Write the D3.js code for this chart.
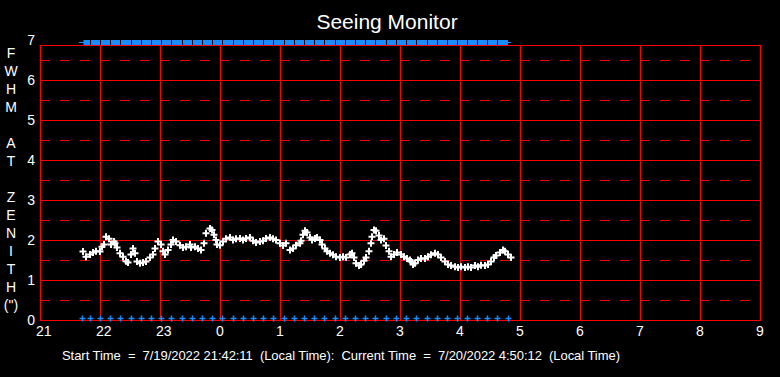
<!DOCTYPE html>
<html>
<head>
<meta charset="utf-8">
<script src="https://cdn.jsdelivr.net/npm/d3@7"></script>
<style>
  body { margin: 0; background: #000; }
  svg { display: block; font-family: "Liberation Sans", Arial, sans-serif; }
</style>
</head>
<body>
<div id="chart"></div>
<script>
// seeing samples: minutes after 21:00 and FWHM at zenith (arcsec)
const seeingMinutes = [43, 46, 50, 53, 56, 60, 62, 64, 66, 69, 71, 74, 75, 77, 80, 83, 86, 88, 91, 93,
  95, 97, 100, 103, 106, 110, 113, 115, 118, 121, 123, 125, 128, 131, 133, 136, 140, 143, 146, 150,
  151, 155, 158, 161, 164, 166, 170, 172, 174, 176, 177, 180, 183, 186, 190, 193, 196, 200, 203, 206,
  210, 213, 216, 220, 223, 226, 230, 233, 236, 240, 243, 246, 250, 253, 256, 260, 261, 263, 265, 267,
  270, 272, 275, 277, 280, 282, 285, 287, 290, 293, 296, 300, 303, 306, 310, 312, 314, 316, 319, 321,
  324, 326, 329, 331, 332, 334, 336, 339, 341, 344, 346, 349, 351, 354, 357, 361, 364, 367, 370, 371,
  373, 375, 378, 381, 385, 388, 391, 395, 398, 401, 405, 408, 411, 415, 418, 421, 425, 428, 431, 435,
  438, 441, 445, 448, 451, 454, 456, 460, 463, 465, 468, 471];
const seeingFwhm = [1.71, 1.58, 1.64, 1.69, 1.72, 1.71, 1.83, 1.89, 2.08, 2.03, 1.89, 1.96, 1.92, 1.81, 1.67, 1.58, 1.47, 1.44, 1.64, 1.79,
  1.67, 1.46, 1.42, 1.44, 1.46, 1.56, 1.64, 1.79, 1.96, 1.89, 1.72, 1.64, 1.75, 1.89, 2.0, 1.96, 1.87, 1.81, 1.83, 1.89,
  1.81, 1.83, 1.79, 1.75, 1.92, 2.17, 2.29, 2.25, 2.13, 2.0, 1.89, 1.87, 1.96, 2.03, 2.06, 2.0, 2.03, 2.04, 2.0, 2.04,
  2.06, 1.98, 1.94, 1.96, 1.98, 2.04, 2.06, 2.03, 2.0, 1.92, 1.86, 1.92, 1.75, 1.79, 1.87, 1.92, 1.98, 2.13, 2.23, 2.19,
  2.06, 2.0, 2.04, 2.06, 2.0, 1.89, 1.79, 1.72, 1.67, 1.63, 1.58, 1.56, 1.58, 1.56, 1.64, 1.67, 1.56, 1.42, 1.36, 1.39,
  1.48, 1.56, 1.72, 1.92, 2.08, 2.25, 2.23, 2.11, 2.0, 2.03, 1.86, 1.72, 1.58, 1.64, 1.69, 1.64, 1.58, 1.54, 1.5, 1.46,
  1.39, 1.42, 1.5, 1.54, 1.54, 1.58, 1.63, 1.67, 1.64, 1.56, 1.46, 1.39, 1.36, 1.33, 1.31, 1.33, 1.31, 1.33, 1.31, 1.36,
  1.33, 1.37, 1.36, 1.39, 1.46, 1.56, 1.61, 1.69, 1.75, 1.72, 1.64, 1.56];

// status markers (minutes after 21:00)
const markerMinutes = [42, 50, 60, 70, 80, 91, 101, 111, 121, 131, 142, 152, 162, 172, 182, 193, 203, 213, 223, 233,
  244, 254, 264, 274, 284, 295, 305, 315, 325, 335, 346, 356, 366, 376, 387, 397, 407, 417, 427, 437, 447, 457, 468];

const hourLabels = ["21", "22", "23", "0", "1", "2", "3", "4", "5", "6", "7", "8", "9"];
const yTicks = [0, 1, 2, 3, 4, 5, 6, 7];
const yHalfTicks = [0.5, 1.5, 2.5, 3.5, 4.5, 5.5, 6.5];
const axisLetters = ["F", "W", "H", "M", "", "A", "T", "", "Z", "E", "N", "I", "T", "H", "(\")"];

const chartTitle = "Seeing Monitor";
const footer = "Start Time  =  7/19/2022 21:42:11  (Local Time):  Current Time  =  7/20/2022 4:50:12  (Local Time)";

const width = 780, height = 377;
const frame = {left: 40, right: 760, top: 45, bottom: 320};

const svg = d3.select("#chart").append("svg")
  .attr("width", width)
  .attr("height", height);

svg.append("rect").attr("width", width).attr("height", height).attr("fill", "#000");

const x = d3.scaleLinear().domain([0, 720]).range([frame.left, frame.right]);
const y = d3.scaleLinear().domain([0, 7]).range([frame.bottom, 40]);

const red = "#ff0000";
const grid = svg.append("g");

// dashed half-unit lines
grid.selectAll(".half")
  .data(yHalfTicks)
  .join("line")
  .attr("x1", frame.left).attr("x2", frame.right)
  .attr("y1", d => Math.round(y(d)) + 0.5).attr("y2", d => Math.round(y(d)) + 0.5)
  .attr("stroke", red)
  .attr("stroke-dasharray", "10,10");

// solid unit lines
grid.selectAll(".unit")
  .data(yTicks.filter(d => d > 0 && d < 7))
  .join("line")
  .attr("x1", frame.left).attr("x2", frame.right)
  .attr("y1", d => Math.round(y(d)) + 0.5).attr("y2", d => Math.round(y(d)) + 0.5)
  .attr("stroke", red);

// hour lines
grid.selectAll(".hour")
  .data(hourLabels.map((d, i) => i * 60))
  .join("line")
  .attr("x1", d => Math.round(x(d)) + 0.5).attr("x2", d => Math.round(x(d)) + 0.5)
  .attr("y1", frame.top).attr("y2", frame.bottom)
  .attr("stroke", red);

grid.append("rect")
  .attr("x", frame.left + 0.5).attr("y", frame.top + 0.5)
  .attr("width", frame.right - frame.left).attr("height", frame.bottom - frame.top)
  .attr("fill", "none").attr("stroke", red);

// top status band
const blue = "#1a8cff";
const bandY = y(7) + 2.5;
svg.append("line")
  .attr("x1", x(markerMinutes[0]) - 3).attr("x2", x(markerMinutes[markerMinutes.length - 1]) + 3)
  .attr("y1", bandY).attr("y2", bandY)
  .attr("stroke", blue).attr("stroke-width", 1);
svg.append("line")
  .attr("x1", x(markerMinutes[0]) + 1.5).attr("x2", x(markerMinutes[markerMinutes.length - 1]))
  .attr("y1", bandY).attr("y2", bandY)
  .attr("stroke", blue).attr("stroke-width", 5);
svg.selectAll(".gap")
  .data(markerMinutes.slice(1, -1))
  .join("line")
  .attr("x1", d => Math.round(x(d)) + 0.5).attr("x2", d => Math.round(x(d)) + 0.5)
  .attr("y1", bandY - 2.5).attr("y2", bandY + 2.5)
  .attr("stroke", "#000");

// bottom status markers
const plus = (sel, r) => sel.attr("d", `M${-r},0H${r}M0,${-r}V${r}`);
svg.selectAll(".bmark")
  .data(markerMinutes)
  .join("path")
  .attr("transform", d => `translate(${Math.round(x(d)) + 0.5},${y(0) - 1.5})`)
  .call(plus, 3)
  .attr("fill", "none").attr("stroke", blue).attr("stroke-width", 1.5);

// seeing samples
svg.selectAll(".pt")
  .data(seeingMinutes.map((m, i) => ({m, v: seeingFwhm[i]})))
  .join("path")
  .attr("transform", d => `translate(${x(d.m)},${y(d.v)})`)
  .call(plus, 3.5)
  .attr("fill", "none").attr("stroke", "#fff").attr("stroke-width", 2);

// axis labels
svg.selectAll(".ylab")
  .data(yTicks)
  .join("text")
  .attr("x", 35).attr("y", d => y(d) + 4.5)
  .attr("text-anchor", "end")
  .attr("font-size", 14).attr("fill", "#fff")
  .text(d => d);

// hour labels are left-aligned just before each grid line
svg.selectAll(".xlab")
  .data(hourLabels)
  .join("text")
  .attr("x", (d, i) => x(i * 60) - 4).attr("y", 336)
  .attr("font-size", 14).attr("fill", "#fff")
  .text(d => d);

svg.selectAll(".ytitle")
  .data(axisLetters)
  .join("text")
  .attr("x", 11).attr("y", (d, i) => 58 + i * 18)
  .attr("text-anchor", "middle")
  .attr("font-size", 14).attr("fill", "#fff")
  .text(d => d);

svg.append("text")
  .attr("x", 387).attr("y", 29)
  .attr("text-anchor", "middle")
  .attr("font-size", 21).attr("fill", "#fff")
  .text(chartTitle);

svg.append("text")
  .attr("x", 62).attr("y", 360)
  .attr("font-size", 13).attr("fill", "#fff")
  .attr("textLength", 558)
  .style("white-space", "pre")
  .text(footer);
</script>
</body>
</html>
